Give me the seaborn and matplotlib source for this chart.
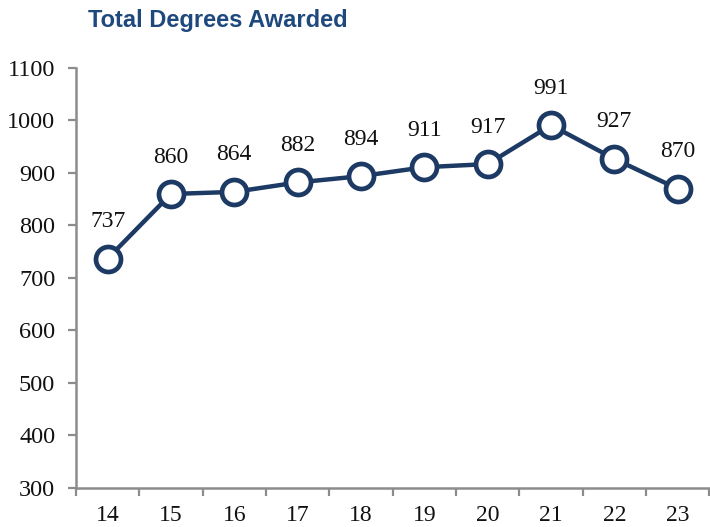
import matplotlib
matplotlib.use("Agg")
import matplotlib.pyplot as plt
import seaborn as sns
import pandas as pd
import numpy as np
from matplotlib.ticker import FixedLocator, MultipleLocator

years = ["14", "15", "16", "17", "18", "19", "20", "21", "22", "23"]
degrees = [737, 860, 864, 882, 894, 911, 917, 991, 927, 870]

df = pd.DataFrame({"year": years, "degrees": degrees})

sns.set_style("white")
plt.rcParams["font.family"] = ["Liberation Serif", "DejaVu Serif"]

navy = "#1C3A63"
gray = "#8C8C8C"

fig = plt.figure(figsize=(7.10, 5.27), dpi=100)
ax = fig.add_axes([0.107, 0.074, 0.892, 0.797])

sns.lineplot(data=df, x="year", y="degrees", ax=ax, color=navy, linewidth=3.2,
             marker="o", markersize=18, markerfacecolor="white",
             markeredgecolor=navy, markeredgewidth=3.4, sort=False)

for i, v in enumerate(degrees):
    ax.annotate(str(v), (i, v), xytext=(0, 19), textcoords="offset points",
                ha="center", va="bottom", fontsize=17, color="#111111")

ax.set_xlim(-0.5, len(years) - 0.5)
ax.set_ylim(300, 1100)
ax.yaxis.set_major_locator(MultipleLocator(100))
ax.set_xlabel("")
ax.set_ylabel("")

ax.set_xticks(np.arange(len(years)))
ax.set_xticklabels(years)
ax.xaxis.set_minor_locator(FixedLocator(np.arange(-0.5, len(years), 1.0)))
ax.tick_params(axis="x", which="major", length=0, pad=12, labelsize=17, labelcolor="#111111")
ax.tick_params(axis="x", which="minor", length=6, width=1.6, color=gray, direction="out", bottom=True)
ax.tick_params(axis="y", which="major", length=6, width=1.6, color=gray, direction="out",
               left=True, pad=9, labelsize=17.5, labelcolor="#111111")

for s in ["top", "right"]:
    ax.spines[s].set_visible(False)
for s in ["left", "bottom"]:
    ax.spines[s].set_color(gray)
    ax.spines[s].set_linewidth(1.8)

fig.text(0.124, 0.962, "Total Degrees Awarded", fontsize=17, fontweight="bold",
         color="#1F497D", family=["Liberation Sans", "DejaVu Sans"], ha="left", va="center")

fig.savefig("out.png", dpi=100)
